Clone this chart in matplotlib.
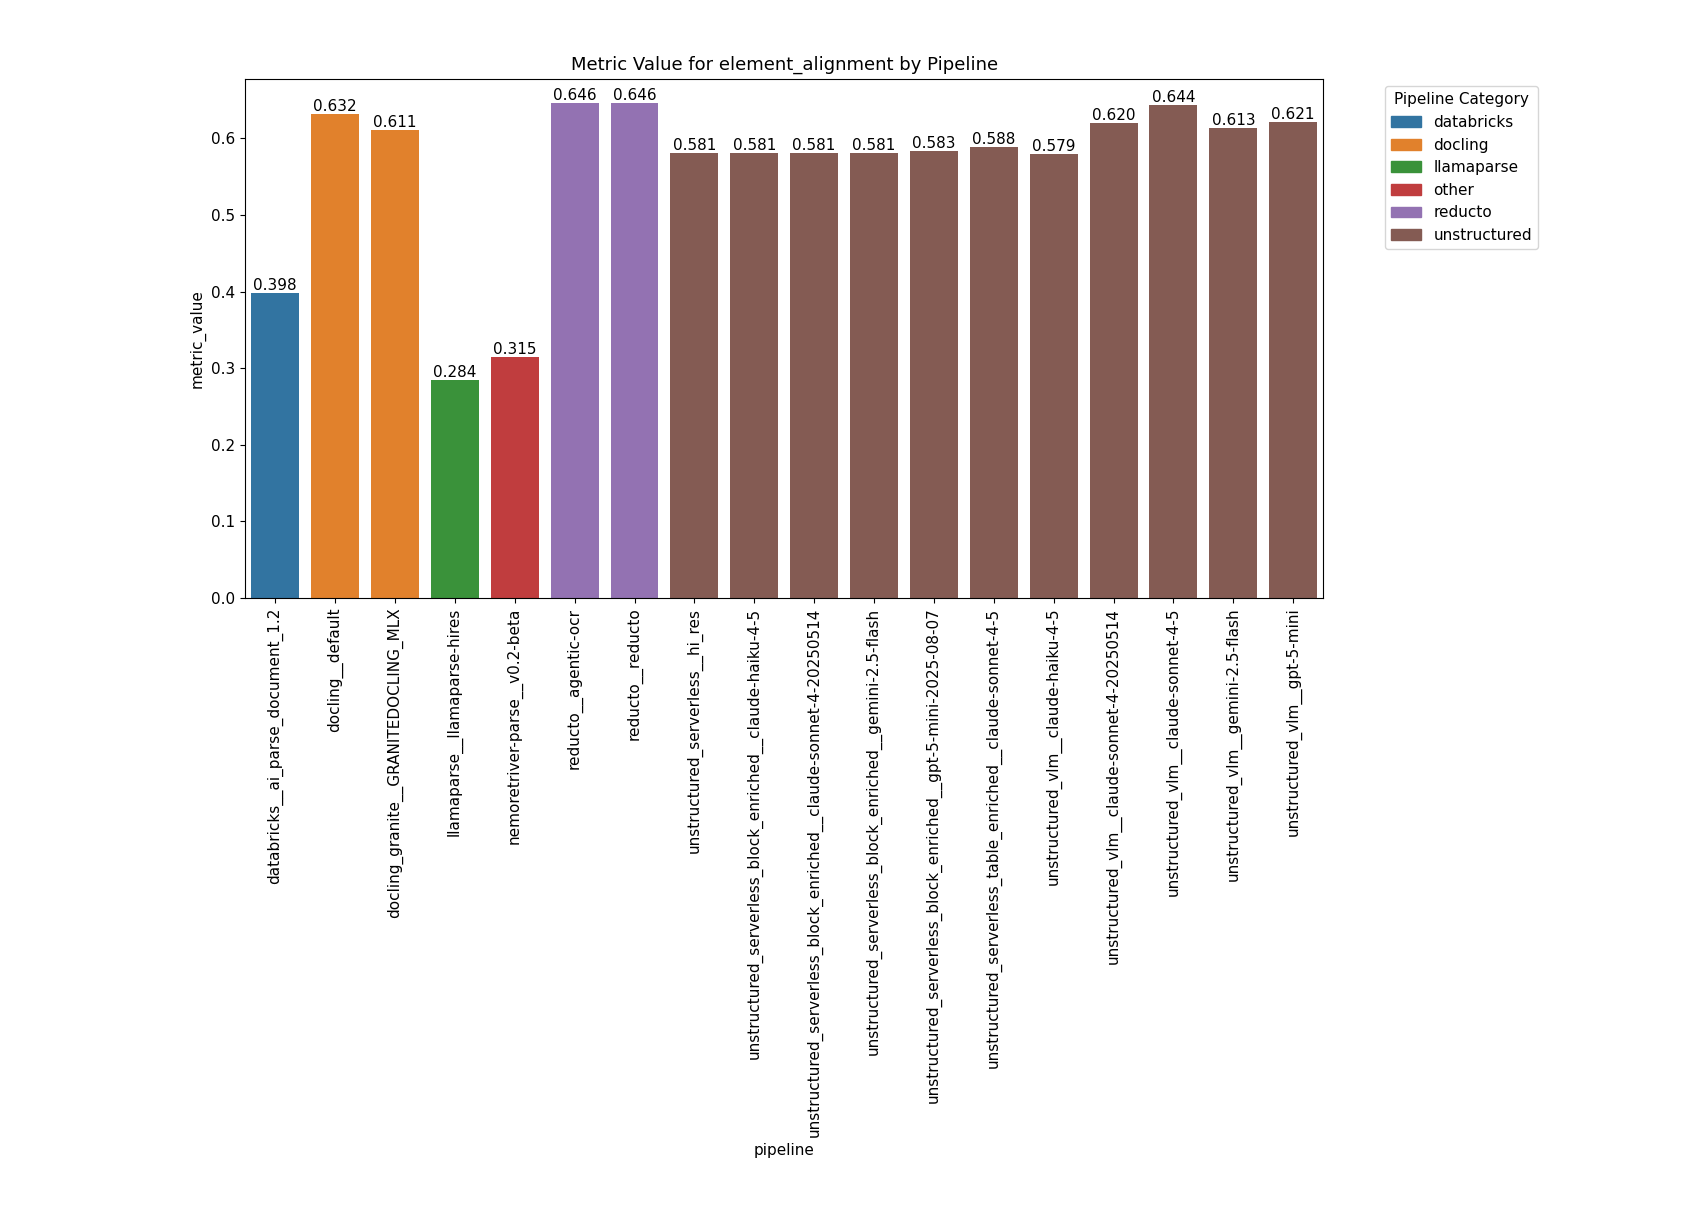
import matplotlib
matplotlib.use("Agg")
import matplotlib.pyplot as plt
import matplotlib.patches as mpatches

pipelines = [
    "databricks__ai_parse_document_1.2",
    "docling__default",
    "docling_granite__GRANITEDOCLING_MLX",
    "llamaparse__llamaparse-hires",
    "nemoretriver-parse__v0.2-beta",
    "reducto__agentic-ocr",
    "reducto__reducto",
    "unstructured_serverless__hi_res",
    "unstructured_serverless_block_enriched__claude-haiku-4-5",
    "unstructured_serverless_block_enriched__claude-sonnet-4-20250514",
    "unstructured_serverless_block_enriched__gemini-2.5-flash",
    "unstructured_serverless_block_enriched__gpt-5-mini-2025-08-07",
    "unstructured_serverless_table_enriched__claude-sonnet-4-5",
    "unstructured_vlm__claude-haiku-4-5",
    "unstructured_vlm__claude-sonnet-4-20250514",
    "unstructured_vlm__claude-sonnet-4-5",
    "unstructured_vlm__gemini-2.5-flash",
    "unstructured_vlm__gpt-5-mini",
]
values = [0.398, 0.632, 0.611, 0.284, 0.315, 0.646, 0.646, 0.581, 0.581,
          0.581, 0.581, 0.583, 0.588, 0.579, 0.620, 0.644, 0.613, 0.621]
categories = ["databricks", "docling", "docling", "llamaparse", "other",
              "reducto", "reducto"] + ["unstructured"] * 11
cat_order = ["databricks", "docling", "llamaparse", "other", "reducto", "unstructured"]
cat_colors = {"databricks": "#3274a1", "docling": "#e1812c", "llamaparse": "#3a923a",
              "other": "#c03d3e", "reducto": "#9372b2", "unstructured": "#845b53"}

plt.rc('font', size=11)
fig = plt.figure(figsize=(16.92, 12.08), dpi=100)
ax = fig.add_axes([0.145, 0.505, 0.637, 0.43])

x = range(len(pipelines))
bars = ax.bar(x, values, width=0.8, color=[cat_colors[c] for c in categories])
for b, v in zip(bars, values):
    ax.text(b.get_x() + b.get_width() / 2, v, f"{v:.3f}", ha='center', va='bottom', fontsize=11)

ax.set_xticks(list(x))
ax.set_xticklabels(pipelines, rotation=90)
ax.set_xlim(-0.5, len(pipelines) - 0.5)
ax.set_ylim(0, 0.678)
ax.set_xlabel("pipeline")
ax.set_ylabel("metric_value")
ax.set_title("Metric Value for element_alignment by Pipeline", fontsize=13)

handles = [mpatches.Patch(color=cat_colors[c], label=c) for c in cat_order]
ax.legend(handles=handles, title="Pipeline Category", loc='upper left',
          bbox_to_anchor=(1.05, 1.0), fontsize=11, title_fontsize=11)

plt.savefig("out.png")
